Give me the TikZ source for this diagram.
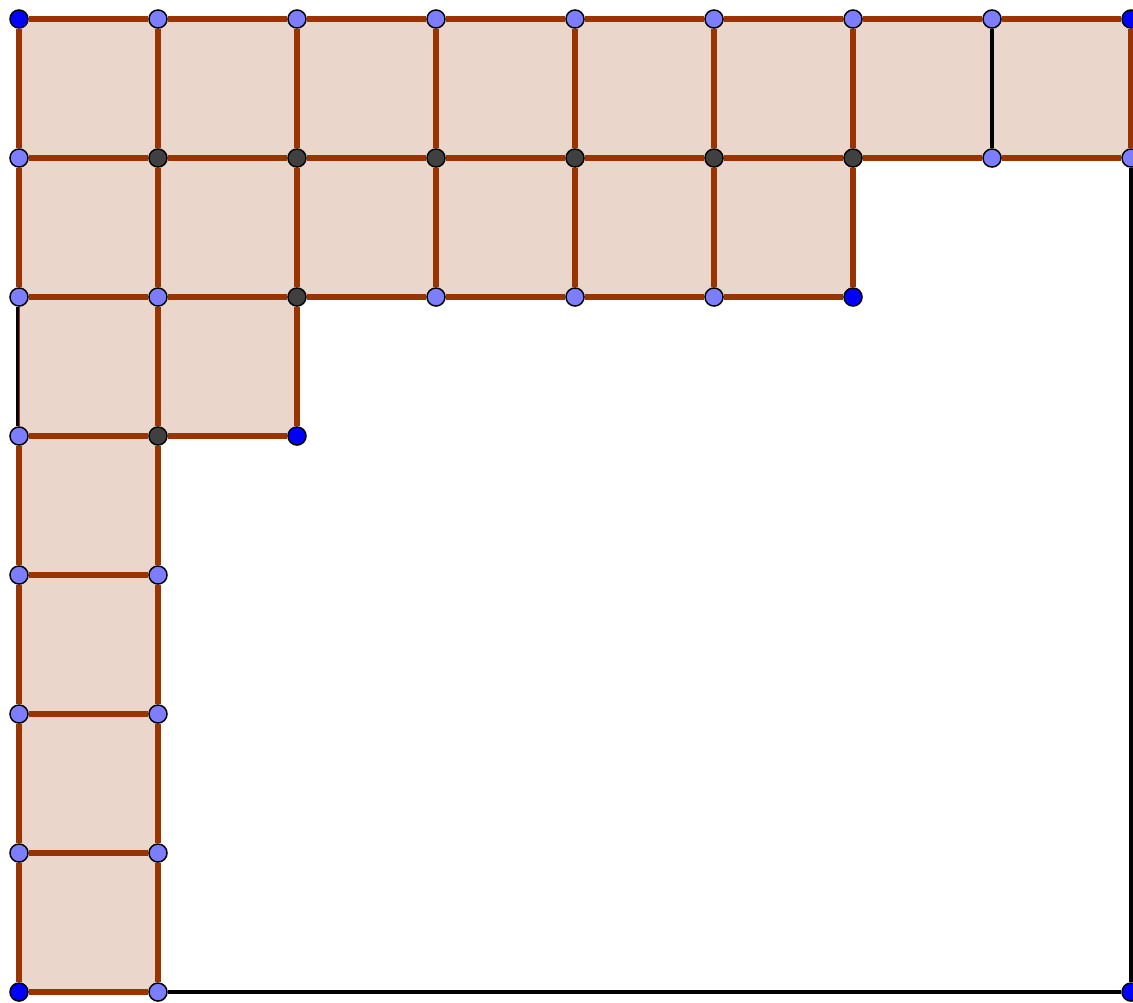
\documentclass[tikz,border=0pt]{standalone}
\usepackage{tikz}

\definecolor{rust}{RGB}{153,51,0}
\definecolor{ptlight}{RGB}{125,125,255}
\definecolor{ptdark}{RGB}{0,0,255}
\definecolor{ptgrey}{RGB}{64,64,64}

\pgfdeclarelayer{background}
\pgfsetlayers{background,main}

\tikzset{
	pt/.style={shape=circle,draw=black,line width=0.3pt,inner sep=0pt,minimum size=0.13cm},
	lpt/.style={pt,fill=ptlight},
	bpt/.style={pt,fill=ptdark},
	gpt/.style={pt,fill=ptgrey},
	rline/.style={draw=rust,line width=1.2pt},
	kline/.style={draw=black,line width=1pt}
}

\begin{document}
\begin{tikzpicture}

	\useasboundingbox (-0.1367,0.1367) rectangle (8.0144,-7.0719);

	% row 0
	\node[bpt] (p00) at (0, 0)  {};
	\node[lpt] (p10) at (1, 0)  {};
	\node[lpt] (p20) at (2, 0)  {};
	\node[lpt] (p30) at (3, 0)  {};
	\node[lpt] (p40) at (4, 0)  {};
	\node[lpt] (p50) at (5, 0)  {};
	\node[lpt] (p60) at (6, 0)  {};
	\node[lpt] (p70) at (7, 0)  {};
	\node[bpt] (p80) at (8, 0)  {};
	% row 1
	\node[lpt] (p01) at (0, -1) {};
	\node[gpt] (p11) at (1, -1) {};
	\node[gpt] (p21) at (2, -1) {};
	\node[gpt] (p31) at (3, -1) {};
	\node[gpt] (p41) at (4, -1) {};
	\node[gpt] (p51) at (5, -1) {};
	\node[gpt] (p61) at (6, -1) {};
	\node[lpt] (p71) at (7, -1) {};
	\node[lpt] (p81) at (8, -1) {};
	% row 2
	\node[lpt] (p02) at (0, -2) {};
	\node[lpt] (p12) at (1, -2) {};
	\node[gpt] (p22) at (2, -2) {};
	\node[lpt] (p32) at (3, -2) {};
	\node[lpt] (p42) at (4, -2) {};
	\node[lpt] (p52) at (5, -2) {};
	\node[bpt] (p62) at (6, -2) {};
	% row 3
	\node[lpt] (p03) at (0, -3) {};
	\node[gpt] (p13) at (1, -3) {};
	\node[bpt] (p23) at (2, -3) {};
	% rows 4 to 7
	\node[lpt] (p04) at (0, -4) {};
	\node[lpt] (p14) at (1, -4) {};
	\node[lpt] (p05) at (0, -5) {};
	\node[lpt] (p15) at (1, -5) {};
	\node[lpt] (p06) at (0, -6) {};
	\node[lpt] (p16) at (1, -6) {};
	\node[bpt] (p07) at (0, -7) {};
	\node[lpt] (p17) at (1, -7) {};
	\node[bpt] (p87) at (8, -7) {};

	% shaded region
	\begin{pgfonlayer}{background}
	\fill[rust!20] (p00.center) -- (p80.center) -- (p81.center) -- (p61.center)
		-- (p62.center) -- (p22.center) -- (p23.center) -- (p13.center)
		-- (p17.center) -- (p07.center) -- cycle;
	\end{pgfonlayer}

	% outer frame
	\draw[kline] (p81) -- (p87) -- (p17);
	\draw[kline] (p70) -- (p71);

	% horizontal lines
	\draw[rline] (p00) -- (p10) -- (p20) -- (p30) -- (p40) -- (p50) -- (p60) -- (p70) -- (p80);
	\draw[rline] (p01) -- (p11) -- (p21) -- (p31) -- (p41) -- (p51) -- (p61) -- (p71) -- (p81);
	\draw[rline] (p02) -- (p12) -- (p22) -- (p32) -- (p42) -- (p52) -- (p62);
	\draw[rline] (p03) -- (p13) -- (p23);
	\draw[rline] (p04) -- (p14);
	\draw[rline] (p05) -- (p15);
	\draw[rline] (p06) -- (p16);
	\draw[rline] (p07) -- (p17);

	% vertical lines
	\draw[rline] (p00) -- (p01) -- (p02);
	\draw[rline,line width=0.6pt] (p02) -- (p03);
	\draw[black,line width=0.5pt] ([xshift=-0.3pt]p02.south) -- ([xshift=-0.3pt]p03.north);
	\draw[rline] (p03) -- (p04) -- (p05) -- (p06) -- (p07);
	\draw[rline] (p10) -- (p11) -- (p12) -- (p13) -- (p14) -- (p15) -- (p16) -- (p17);
	\draw[rline] (p20) -- (p21) -- (p22) -- (p23);
	\draw[rline] (p30) -- (p31) -- (p32);
	\draw[rline] (p40) -- (p41) -- (p42);
	\draw[rline] (p50) -- (p51) -- (p52);
	\draw[rline] (p60) -- (p61) -- (p62);
	\draw[rline] (p80) -- (p81);

\end{tikzpicture}
\end{document}
